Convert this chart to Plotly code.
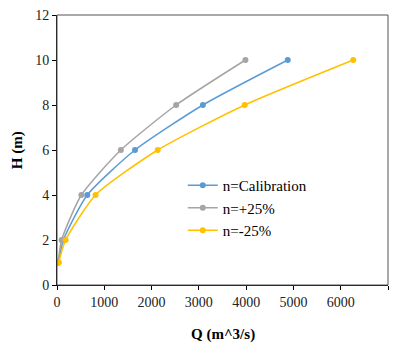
import plotly.graph_objects as go

H = [1, 2, 4, 6, 8, 10]
Q_cal = [30, 135, 640, 1650, 3085, 4880]
Q_plus = [25, 98, 515, 1350, 2520, 3985]
Q_minus = [35, 183, 815, 2130, 3970, 6265]

names = ["n=Calibration", "n=+25%", "n=-25%"]
colors = ["#5B9BD5", "#A5A5A5", "#FFC000"]
series = [Q_cal, Q_plus, Q_minus]

fig = go.Figure()
for name, c, q in zip(names, colors, series):
    fig.add_trace(go.Scatter(
        x=q, y=H, name=name, mode="lines+markers",
        line=dict(color=c, width=1.5, shape="spline", smoothing=0.6),
        marker=dict(color=c, size=6),
    ))

font = "'Times New Roman', 'Liberation Serif', 'DejaVu Serif', serif"
fig.update_layout(
    width=401, height=345,
    margin=dict(l=57, r=13, t=15, b=60, autoexpand=False),
    paper_bgcolor="white", plot_bgcolor="white",
    font=dict(family=font, size=13, color="#222"),
    showlegend=True,
    legend=dict(x=0.38, y=0.43, xanchor="left", yanchor="top",
                bgcolor="rgba(0,0,0,0)", font=dict(family=font, size=15, color="black"),
                itemwidth=30, tracegroupgap=4),
    xaxis=dict(range=[0, 7000], dtick=1000, showgrid=False, zeroline=False,
               showline=True, linecolor="black", linewidth=1, mirror=False,
               ticks="outside", ticklen=4, tickcolor="black", automargin=False,
               tickfont=dict(family=font, size=14, color="#222")),
    yaxis=dict(range=[0, 12], dtick=2, showgrid=False, zeroline=False,
               showline=True, linecolor="black", linewidth=1, mirror=False,
               ticks="outside", ticklen=4, tickcolor="black", automargin=False,
               tickfont=dict(family=font, size=14, color="#222")),
    shapes=[dict(type="rect", xref="paper", yref="paper", x0=0, y0=0, x1=1, y1=1,
                 line=dict(color="#555", width=1), layer="above")],
    annotations=[
        dict(text="<b>Q (m^3/s)</b>", xref="paper", yref="paper", x=0.5, y=-0.185,
             xanchor="center", yanchor="middle", showarrow=False,
             font=dict(family=font, size=15, color="black")),
        dict(text="<b>H (m)</b>", xref="paper", yref="paper", x=-0.12, y=0.5,
             xanchor="center", yanchor="middle", showarrow=False, textangle=-90,
             font=dict(family=font, size=15, color="black")),
    ],
)

fig.write_html("out.html")
